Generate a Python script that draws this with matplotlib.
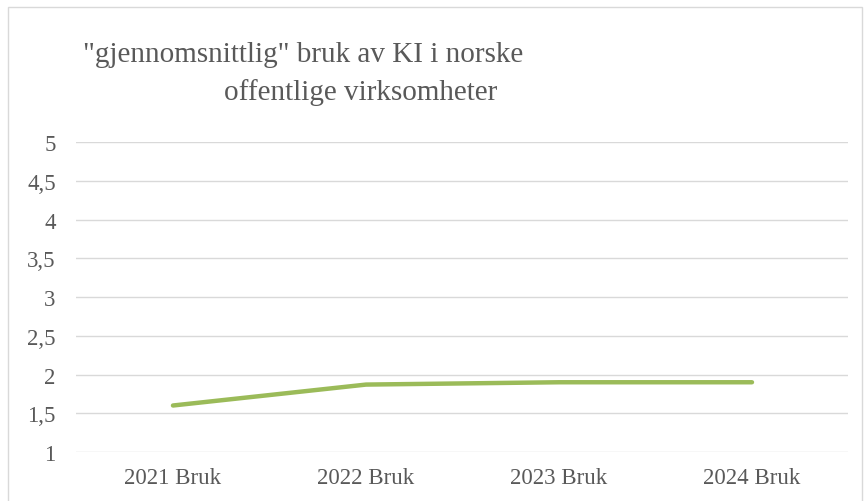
import matplotlib.pyplot as plt
import matplotlib.patches as mpatches

# data
kategorier = ['2021 Bruk', '2022 Bruk', '2023 Bruk', '2024 Bruk']
verdier = [1.6, 1.87, 1.9, 1.9]
yticks = [1, 1.5, 2, 2.5, 3, 3.5, 4, 4.5, 5]
ytick_labels = ['1', '1,5', '2', '2,5', '3', '3,5', '4', '4,5', '5']

plt.rcParams['font.family'] = ['Liberation Serif', 'DejaVu Serif']
tekstfarge = '#595959'

fig = plt.figure(figsize=(8.65, 5.02), dpi=100)
ax = fig.add_axes([0.0884, 0.0976, 0.8925, 0.6175])

x = range(len(kategorier))
ax.plot(x, verdier, color='#9BBB59', linewidth=3.2, solid_capstyle='round')

ax.set_xlim(-0.5, len(kategorier) - 0.5)
ax.set_ylim(1, 5)
ax.set_yticks(yticks)
ax.set_yticklabels(ytick_labels)
ax.set_xticks(list(x))
ax.set_xticklabels(kategorier)
ax.tick_params(axis='both', length=0, labelsize=16.5, colors=tekstfarge)
ax.tick_params(axis='y', pad=15)
ax.tick_params(axis='x', pad=11)
ax.grid(axis='y', color='#D9D9D9', linewidth=1)
ax.set_axisbelow(True)
for s in ax.spines.values():
    s.set_visible(False)

# tittel i to linjer
fig.text(303 / 865, 1 - 62 / 502, '"gjennomsnittlig" bruk av KI i norske',
         ha='center', va='baseline', fontsize=21, color=tekstfarge)
fig.text(361 / 865, 1 - 100 / 502, 'offentlige virksomheter',
         ha='center', va='baseline', fontsize=21, color=tekstfarge)

# ramme rundt diagrammet
ramme = mpatches.Rectangle((8 / 865, -0.01), 854 / 865, 1 - 8 / 502 + 0.01,
                           transform=fig.transFigure, fill=False,
                           edgecolor='#D9D9D9', linewidth=1)
fig.patches.append(ramme)

fig.savefig('out.png', dpi=100)
